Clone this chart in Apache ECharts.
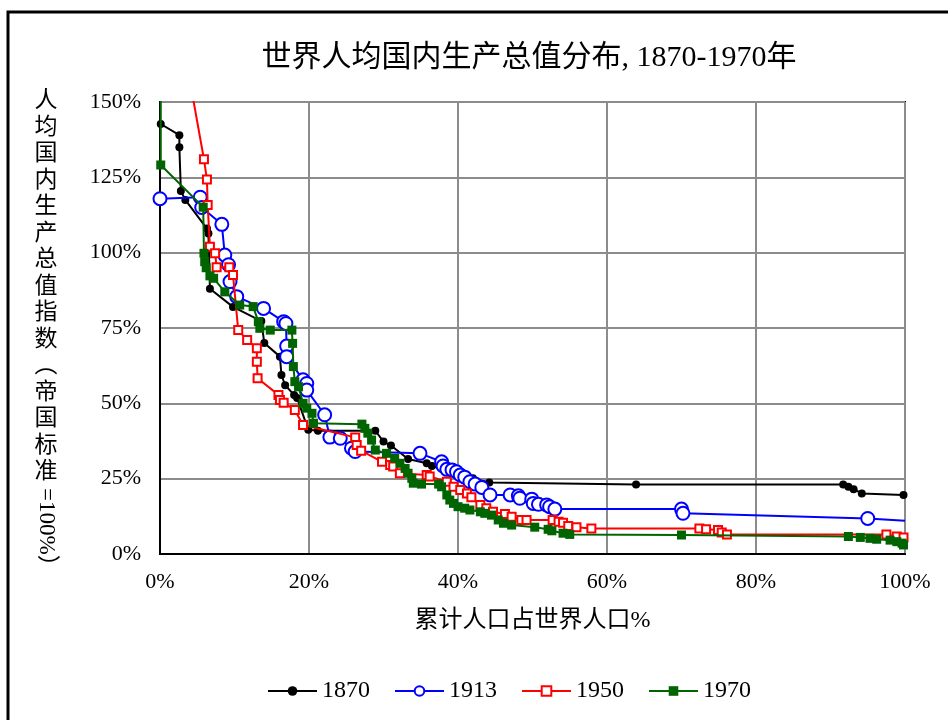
<!DOCTYPE html>
<html><head><meta charset="utf-8">
<script src="https://cdn.jsdelivr.net/npm/echarts/dist/echarts.min.js"></script>
<style>html,body{margin:0;padding:0;background:#fff}#c{width:948px;height:720px}</style>
</head><body><div id="c"></div>
<script>
const titleText = '世界人均国内生产总值分布, 1870-1970年';
const xName = '累计人口占世界人口%';
const yNameUpright = '人均国内生产总值指数︵帝国标准';
const yNameRotated = '=100%）';
const seriesNames = ['1870', '1913', '1950', '1970'];

const x1870 = [0.1, 2.6, 2.6, 2.8, 3.4, 6.3, 6.5, 6.7, 9.8, 13.6, 14.0, 16.1, 16.3, 16.8, 18.0, 18.4, 19.9, 21.2, 28.9, 30.0, 31.0, 33.3, 35.8, 36.5, 42.0, 44.2, 63.9, 91.7, 92.4, 93.1, 94.2, 99.8];
const y1870 = [142.7, 139, 135, 120.5, 117.5, 108, 106.4, 88, 82, 77.3, 70, 65.5, 59.4, 56, 52.8, 51.8, 41.2, 40.9, 40.9, 37.3, 36, 31.5, 30.1, 29.2, 25.1, 23.7, 23.1, 23.1, 22.3, 21.5, 20.1, 19.6];

const x1913 = [0, 5.4, 5.6, 8.3, 8.7, 9.2, 9.4, 10.3, 13.9, 16.6, 16.9, 17.0, 17.0, 19.2, 19.7, 19.7, 22.1, 22.8, 24.2, 25.7, 26.2, 34.9, 37.8, 38.0, 38.5, 39.2, 39.8, 40.3, 40.9, 41.6, 42.3, 43.2, 44.3, 47.0, 48.1, 48.3, 49.9, 50.1, 50.8, 51.9, 52.3, 53.0, 70.0, 70.2, 95.0, 100];
const y1913 = [117.9, 118.4, 115, 109.4, 99.2, 96, 90.4, 85.4, 81.5, 77.1, 76.5, 69, 65.5, 57.8, 56.6, 54.4, 46.2, 38.8, 38.4, 35.1, 34, 33.4, 30.6, 29.2, 28.1, 27.9, 27.3, 26.2, 25.5, 24, 23.2, 22.1, 19.6, 19.6, 19.3, 18.5, 18.2, 16.8, 16.5, 16.3, 15.7, 14.9, 14.9, 13.5, 11.8, 11.0];

const x1950 = [3.0, 5.9, 6.3, 6.4, 6.7, 7.4, 7.6, 9.3, 9.8, 10.5, 11.7, 13.0, 13.0, 13.1, 15.9, 16.1, 16.6, 18.1, 19.2, 26.2, 26.4, 27.0, 29.8, 30.9, 31.3, 32.2, 35.8, 36.2, 38.5, 39.4, 40.3, 41.2, 41.8, 43.0, 43.8, 44.7, 46.3, 47.2, 48.5, 49.2, 52.7, 53.5, 54.1, 54.8, 55.9, 57.9, 72.4, 73.3, 74.9, 75.4, 76.1, 97.5, 98.9, 99.8];
const y1950 = [171, 131, 124.3, 115.8, 102, 99.8, 95.2, 95.2, 92.6, 74.3, 71, 68.3, 63.8, 58.3, 52.8, 51.1, 50.2, 47.8, 42.8, 38.7, 36.2, 34.3, 30.6, 29.5, 29, 26.8, 26.2, 25.7, 24, 22.3, 21.2, 20.1, 18.8, 16.3, 15.2, 14, 13.3, 12.4, 11.3, 11.3, 11.3, 10.7, 10.4, 9.3, 8.9, 8.5, 8.5, 8.2, 8, 7.1, 6.5, 6.5, 5.8, 5.5];

const x1970 = [0.1, 0.1, 5.8, 5.9, 6.0, 6.2, 6.7, 7.2, 8.7, 10.7, 12.5, 13.2, 13.4, 14.8, 17.7, 17.8, 17.9, 18.1, 18.6, 19.2, 19.7, 20.4, 20.6, 27.1, 27.5, 27.9, 28.4, 28.9, 30.4, 31.5, 32.2, 32.9, 33.3, 33.8, 34.0, 35.1, 37.4, 37.8, 38.5, 38.9, 39.4, 40.0, 40.9, 41.6, 43.0, 43.6, 44.5, 45.4, 46.1, 47.2, 50.3, 52.1, 52.6, 54.1, 55.0, 70.0, 92.4, 94.0, 95.3, 96.2, 98.0, 98.9, 99.6, 99.8];
const y1970 = [185, 129.1, 115.1, 99.8, 97, 95, 92.3, 91.5, 87, 82.6, 82.1, 77.1, 74.9, 74.3, 74.3, 69.9, 62.2, 57.2, 55.5, 50, 48.4, 46.7, 43.4, 43.1, 41.7, 40.1, 37.8, 34.5, 33.4, 31.8, 30.1, 28.4, 26.8, 25.1, 23.5, 23.2, 23.2, 22.3, 19.6, 17.9, 16.8, 15.7, 15.2, 14.6, 14.0, 13.5, 12.9, 11.3, 10.2, 9.6, 8.9, 8.2, 7.7, 6.9, 6.5, 6.3, 5.8, 5.5, 5.2, 4.9, 4.6, 4.1, 3.6, 3.0];

const SERIF = "'Liberation Serif', 'Noto Sans CJK SC', serif";
const pairs = (xs, ys) => xs.map((x, i) => [x, ys[i]]);

const d1913 = pairs(x1913, y1913).map((p, i, a) => i === a.length - 1 ? {value: p, symbol: 'none'} : p);

const chart = echarts.init(document.getElementById('c'), null, {renderer: 'canvas'});
chart.setOption({
  animation: false,
  backgroundColor: '#fff',
  title: {
    text: titleText, left: 524, top: 38, textAlign: 'center',
    textStyle: {fontFamily: SERIF, fontSize: 30, fontWeight: 'normal', color: '#000'}
  },
  grid: {left: 160, top: 102, right: 43, bottom: 166, show: true, borderColor: '#000', borderWidth: 2, backgroundColor: 'transparent'},
  legend: {
    left: 262, top: 674, itemWidth: 49, itemHeight: 12, itemGap: 24,
    data: seriesNames,
    textStyle: {fontFamily: SERIF, fontSize: 24, color: '#000'}
  },
  xAxis: {
    type: 'value', min: 0, max: 100, interval: 20,
    name: xName, nameLocation: 'middle', nameGap: 55,
    nameTextStyle: {fontFamily: SERIF, fontSize: 24, color: '#000'},
    axisLine: {show: true, lineStyle: {color: '#000', width: 2}},
    axisTick: {show: false},
    axisLabel: {formatter: '{value}%', fontFamily: SERIF, fontSize: 22, color: '#000', margin: 17},
    splitLine: {show: true, lineStyle: {color: '#8c8c8c', width: 2}}
  },
  yAxis: {
    type: 'value', min: 0, max: 150, interval: 25,
    axisLine: {show: true, lineStyle: {color: '#000', width: 2}},
    axisTick: {show: false},
    axisLabel: {formatter: '{value}%', fontFamily: SERIF, fontSize: 22, color: '#000', margin: 19},
    splitLine: {show: true, lineStyle: {color: '#8c8c8c', width: 2}}
  },
  graphic: [
    {type: 'rect', shape: {x: 8, y: 12, width: 1000, height: 1000}, style: {fill: 'none', stroke: '#000', lineWidth: 3}, silent: true},
    {type: 'text', x: 46, y: 88, style: {text: yNameUpright.split('').join('\n'), font: "23px 'Liberation Serif', 'Noto Sans CJK SC'", lineHeight: 26.5, align: 'center', verticalAlign: 'top', fill: '#000'}},
    {type: 'text', x: 46, y: 488, rotation: -Math.PI / 2, style: {text: yNameRotated, font: "23px 'Liberation Serif', 'Noto Sans CJK SC'", align: 'left', verticalAlign: 'middle', fill: '#000'}}
  ],
  series: [
    {name: '1870', type: 'line', data: pairs(x1870, y1870), color: '#000', symbol: 'circle', symbolSize: 8, lineStyle: {width: 2, color: '#000'}, itemStyle: {color: '#000'}, z: 2},
    {name: '1913', type: 'line', data: d1913, color: '#0000ff', symbol: 'emptyCircle', symbolSize: 13, lineStyle: {width: 2, color: '#0000ff'}, itemStyle: {color: '#0000ff', borderWidth: 1.5}, z: 3},
    {name: '1950', type: 'line', data: pairs(x1950, y1950), color: '#ff0000', symbol: 'emptyRect', symbolSize: 8, lineStyle: {width: 2, color: '#ff0000'}, itemStyle: {color: '#ff0000', borderWidth: 1.5}, z: 4},
    {name: '1970', type: 'line', data: pairs(x1970, y1970), color: '#006400', symbol: 'rect', symbolSize: 9, lineStyle: {width: 2, color: '#006400'}, itemStyle: {color: '#006400'}, z: 5}
  ]
});
</script></body></html>
